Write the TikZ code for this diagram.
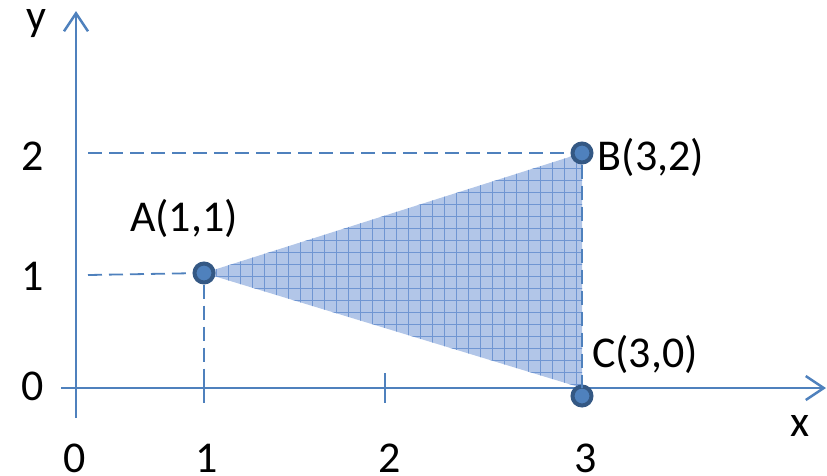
\documentclass[tikz,border=0pt]{standalone}
\usepackage{fontspec}
\setmainfont{Carlito}
\usetikzlibrary{arrows.meta}
\definecolor{axisblue}{RGB}{79,129,189}
\definecolor{ptfill}{RGB}{79,129,189}
\definecolor{ptdraw}{RGB}{52,88,132}
\definecolor{trifill}{RGB}{178,198,232}
\definecolor{gridblue}{RGB}{112,150,210}
\begin{document}
\begin{tikzpicture}[x=1pt,y=-1pt,
  axis/.style={draw=axisblue,line width=2.5pt,-{Straight Barb[length=18pt,width=24pt,line width=2.5pt]}},
  guide/.style={draw=axisblue,line width=1.8pt,dash pattern=on 14pt off 7pt},
  tick/.style={draw=axisblue,line width=2.5pt},
  pt/.style={circle,fill=ptfill,draw=ptdraw,line width=4pt,minimum size=19pt,inner sep=0pt},
  lbl/.style={font=\fontsize{44}{50}\selectfont,text=black,inner sep=0pt}]
\useasboundingbox (0,0) rectangle (827,475);
% triangle
\begin{scope}
  \clip (204,273) -- (582,153) -- (582,388) -- cycle;
  \fill[trifill] (204,150) rectangle (584,390);
  \draw[gridblue,line width=0.9pt] (198,147) grid[step=12pt] (590,395);
\end{scope}
% guides
\coordinate (g2) at (88,153);
\coordinate (g1) at (88,275);
\coordinate (a0) at (204,388);
\coordinate (c0) at (582,388);
% axes
\coordinate (xs) at (61,388);
\coordinate (xe) at (826,388);
\coordinate (ys) at (76,418);
\coordinate (ye) at (76,11);
\draw[axis] (xs) -- (xe);
\draw[axis] (ys) -- (ye);
% ticks
\coordinate (t1a) at (204,373); \coordinate (t1b) at (204,403);
\coordinate (t2a) at (385,373); \coordinate (t2b) at (385,403);
\draw[tick] (t1a) -- (t1b);
\draw[tick] (t2a) -- (t2b);
% points
\node[pt] (A) at (204,273) {};
\node[pt] (B) at (582,153) {};
\node[pt] (C) at (582,396) {};
\draw[guide] (g2) -- (B);
\draw[guide] (g1) -- (A);
\draw[guide] (A) -- (a0);
\draw[guide] (B) -- (c0);
% labels
\node[lbl] (ly) at (36,24) {y};
\node[lbl] (lx) at (800,426) {x};
\node[lbl] (x0) at (75,458) {0};
\node[lbl] (x1) at (207,458) {1};
\node[lbl] (x2) at (390,458) {2};
\node[lbl] (x3) at (586,458) {3};
\node[lbl] (y2) at (33,156) {2};
\node[lbl] (y1) at (33,276) {1};
\node[lbl] (y0) at (33,386) {0};
\node[lbl] (lA) at (184,218) {A(1,1)};
\node[lbl] (lB) at (651,157) {B(3,2)};
\node[lbl] (lC) at (645,354) {C(3,0)};
\end{tikzpicture}
\end{document}
